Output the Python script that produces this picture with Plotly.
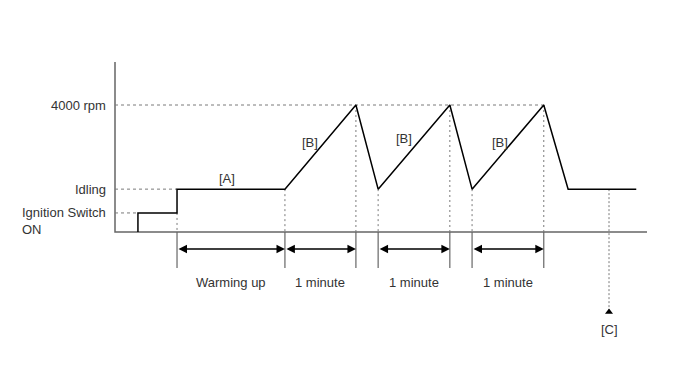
import plotly.graph_objects as go

# ---- data (time in minutes-ish units, speed in thousands of rpm) ----
profile_t = [0.32, 0.32, 0.865, 0.865, 2.37, 3.36, 3.67, 4.67, 4.98, 5.98, 6.32, 7.27]
profile_rpm = [0.0, 0.6, 0.6, 1.35, 1.35, 4.0, 1.35, 4.0, 1.35, 4.0, 1.35, 1.35]

level_labels = ["4000 rpm", "Idling", "Ignition Switch<br>ON"]
level_values = [4.0, 1.35, 0.6]
level_ends = [5.98, 0.865, 0.32]

drop_t = [0.865, 2.37, 3.36, 3.67, 4.67, 4.98, 5.98]
drop_from = [0.6, 1.35, 4.0, 1.35, 4.0, 1.35, 4.0]

span_start = [0.865, 2.37, 3.67, 4.98]
span_end = [2.37, 3.36, 4.67, 5.98]
span_labels = ["Warming up", "1 minute", "1 minute", "1 minute"]

phase_labels = ["[A]", "[B]", "[B]", "[B]"]
phase_t = [1.562, 2.72, 4.03, 5.37]
phase_y = [1.70, 2.83, 2.96, 2.83]

c_t = 6.89
c_label = "[C]"

axis_end_t = 7.42
axis_top = 5.354

# ---- layout helpers (page body has an 8px margin) ----
PXX = 71.7
PXY = 31.75
OFF = 8
W, H = 672, 350
xr = [(OFF - 115) / PXX, (OFF + W - 115) / PXX]
yr = [-(OFF + H - 232) / PXY, (232 - OFF) / PXY]

AX = "#666666"
DOT = "#7a7a7a"
FONT = "Liberation Sans, Arial, sans-serif"
TXT = "#333333"
FS = 13

fig = go.Figure()

# axes
fig.add_trace(go.Scatter(x=[0, 0, axis_end_t], y=[axis_top, 0, 0], mode="lines",
                         line=dict(color=AX, width=1.5), hoverinfo="skip", showlegend=False))

# horizontal dotted level lines
for v, e in zip(level_values, level_ends):
    fig.add_trace(go.Scatter(x=[0, e], y=[v, v], mode="lines",
                             line=dict(color=DOT, width=1, dash="3px,3px"),
                             hoverinfo="skip", showlegend=False))

# vertical dotted drop lines
for t, f in zip(drop_t, drop_from):
    fig.add_trace(go.Scatter(x=[t, t], y=[f, 0], mode="lines",
                             line=dict(color=DOT, width=1, dash="2px,3px"),
                             hoverinfo="skip", showlegend=False))

# tick lines below axis
for t in drop_t:
    fig.add_trace(go.Scatter(x=[t, t], y=[0, -36 / PXY], mode="lines",
                             line=dict(color=AX, width=1.2),
                             hoverinfo="skip", showlegend=False))

# [C] line
fig.add_trace(go.Scatter(x=[c_t, c_t], y=[1.35, -81 / PXY], mode="lines",
                         line=dict(color=DOT, width=1, dash="2px,2px"),
                         hoverinfo="skip", showlegend=False))
fig.add_trace(go.Scatter(x=[c_t], y=[-80 / PXY], mode="markers",
                         marker=dict(symbol="triangle-up", size=7, color="black"),
                         hoverinfo="skip", showlegend=False))

# main profile
fig.add_trace(go.Scatter(x=profile_t, y=profile_rpm, mode="lines",
                         line=dict(color="black", width=1.5),
                         hoverinfo="skip", showlegend=False))

annotations = []
# span arrows and labels
arr_y = -17 / PXY
for s, e, lab in zip(span_start, span_end, span_labels):
    annotations.append(dict(x=e, y=arr_y, ax=s, ay=arr_y, xref="x", yref="y",
                            axref="x", ayref="y", showarrow=True, arrowside="end+start",
                            arrowhead=2, arrowsize=1.3, arrowwidth=1.3, arrowcolor="black",
                            text=""))
    annotations.append(dict(x=(s + e) / 2, y=-50 / PXY, xref="x", yref="y", text=lab,
                            showarrow=False, font=dict(size=FS, color=TXT, family=FONT)))

for lab, t, y in zip(phase_labels, phase_t, phase_y):
    annotations.append(dict(x=t, y=y, xref="x", yref="y", text=lab, showarrow=False,
                            font=dict(size=FS, color=TXT, family=FONT)))

for lab, v in zip(level_labels, level_values):
    yy = v if "<br>" not in lab else v - 8.5 / PXY
    annotations.append(dict(x=-7 / PXX, y=yy, xref="x", yref="y", text=lab, showarrow=False,
                            xanchor="right", align="left",
                            font=dict(size=FS, color=TXT, family=FONT)))

annotations.append(dict(x=c_t, y=-97 / PXY, xref="x", yref="y", text=c_label, showarrow=False,
                        font=dict(size=FS, color=TXT, family=FONT)))

fig.update_layout(
    width=W, height=H, autosize=False,
    margin=dict(l=0, r=0, t=0, b=0),
    paper_bgcolor="white", plot_bgcolor="white",
    xaxis=dict(range=xr, visible=False, fixedrange=True),
    yaxis=dict(range=yr, visible=False, fixedrange=True),
    annotations=annotations,
    showlegend=False,
)

fig.write_html("out.html", config={"displayModeBar": False})
